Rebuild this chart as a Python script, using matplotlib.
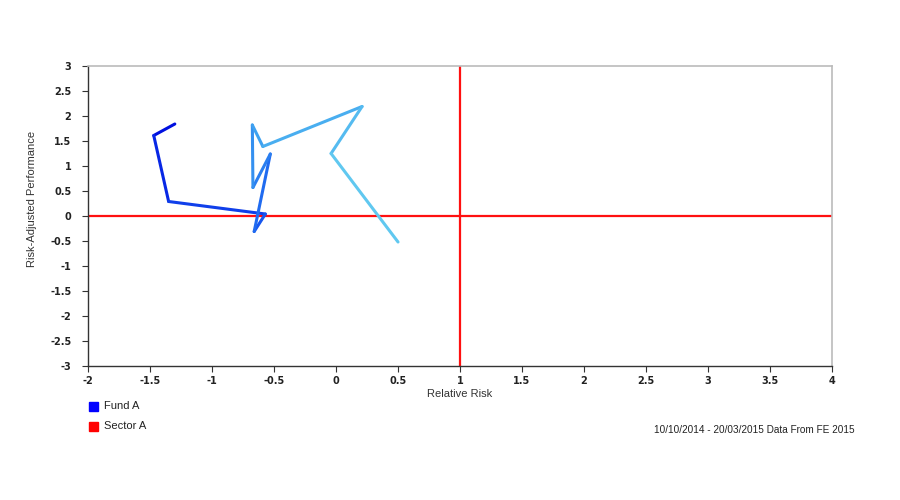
import matplotlib.pyplot as plt
import numpy as np
from matplotlib.colors import LinearSegmentedColormap
from matplotlib.patches import Rectangle

# ===== データ =====
relative_risk = [-1.30, -1.47, -1.35, -0.57, -0.66, -0.53, -0.67, -0.675, -0.59, 0.21, -0.04, 0.50]
risk_adj_perf = [1.84, 1.61, 0.29, 0.04, -0.31, 1.24, 0.57, 1.82, 1.39, 2.19, 1.25, -0.52]

x_ticks = [-2, -1.5, -1, -0.5, 0, 0.5, 1, 1.5, 2, 2.5, 3, 3.5, 4]
y_ticks = [3, 2.5, 2, 1.5, 1, 0.5, 0, -0.5, -1, -1.5, -2, -2.5, -3]

sector_x = 1
sector_y = 0

legend_names = ["Fund A", "Sector A"]
footer = "10/10/2014 - 20/03/2015 Data From FE 2015"

plt.rcParams["font.family"] = ["Liberation Sans", "DejaVu Sans"]

# ===== 描画 =====
fig = plt.figure(figsize=(9, 5), dpi=100)
ax = fig.add_axes([0.0978, 0.268, 0.8267, 0.6])

# 線分ごとに色を変える（濃い青 → 水色）
cmap = LinearSegmentedColormap.from_list("fund", ["#0010e0", "#1a5ff0", "#3a9cf0", "#60c8f0"])
n_seg = len(relative_risk) - 1
for i in range(n_seg):
    ax.plot(relative_risk[i:i + 2], risk_adj_perf[i:i + 2],
            color=cmap(i / (n_seg - 1)), lw=2.2, solid_capstyle="round", zorder=3)

ax.axvline(sector_x, color="#ff1010", lw=1.6, zorder=2)
ax.axhline(sector_y, color="#ff1010", lw=1.6, zorder=2)

ax.set_xlim(-2, 4)
ax.set_ylim(-3, 3)
ax.set_xticks(x_ticks)
ax.set_yticks(y_ticks)
ax.set_xticklabels([f"{t:g}" for t in x_ticks])
ax.set_yticklabels([f"{t:g}" for t in y_ticks])
ax.tick_params(axis="both", labelsize=7, colors="#333333", length=4, width=0.8)
ax.tick_params(axis="y", pad=8)
for lbl in ax.get_xticklabels() + ax.get_yticklabels():
    lbl.set_fontweight("bold")
    lbl.set_fontfamily("DejaVu Sans")
    lbl.set_color("#222222")

for side in ["top", "right"]:
    ax.spines[side].set_color("#bbbbbb")
    ax.spines[side].set_linewidth(1.2)
for side in ["left", "bottom"]:
    ax.spines[side].set_color("#333333")
    ax.spines[side].set_linewidth(1.0)

ax.set_xlabel("Relative Risk", fontsize=8, color="#333333", labelpad=2)
ax.set_ylabel("Risk-Adjusted Performance", fontsize=8, color="#333333")
ax.yaxis.set_label_coords(-0.069, 0.557)

# 凡例（左下）
for name, col, yy in zip(legend_names, ["#0000ff", "#ff0000"], [406, 426]):
    fig.patches.append(Rectangle((89 / 900, 1 - (yy + 5) / 500), 9 / 900, 9 / 500,
                                 transform=fig.transFigure, color=col))
    fig.text(104 / 900, 1 - yy / 500, name, fontsize=8, color="#222222", va="center")

fig.text(855 / 900, 1 - 430 / 500, footer, fontsize=7.2, color="#222222", ha="right", va="center")

fig.savefig("out.png", dpi=100)
